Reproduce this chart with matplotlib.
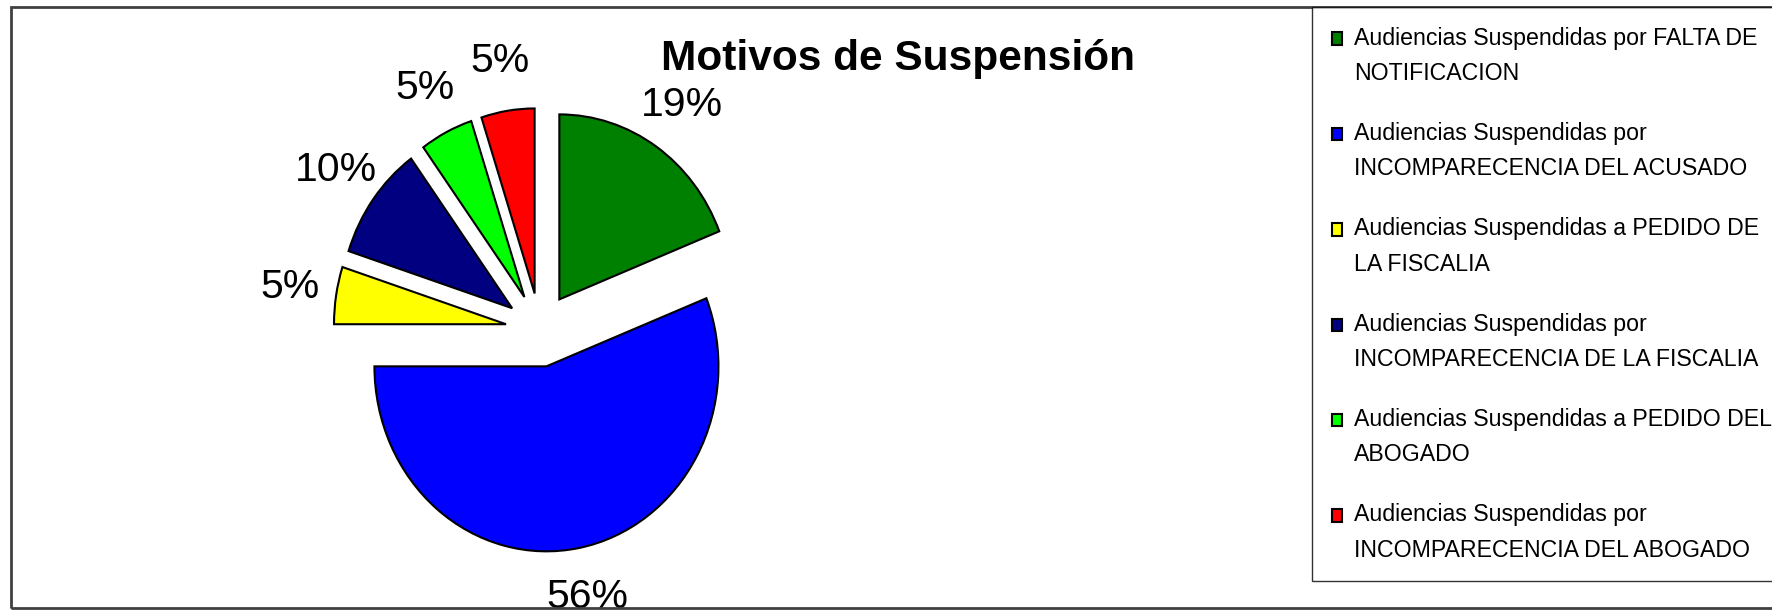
import matplotlib
matplotlib.use("Agg")
import matplotlib.pyplot as plt
from matplotlib.patches import Rectangle
from matplotlib.legend_handler import HandlerPatch

motivos = [
    'Audiencias Suspendidas por FALTA DE\nNOTIFICACION',
    'Audiencias Suspendidas por\nINCOMPARECENCIA DEL ACUSADO',
    'Audiencias Suspendidas a PEDIDO DE\nLA FISCALIA',
    'Audiencias Suspendidas por\nINCOMPARECENCIA DE LA FISCALIA',
    'Audiencias Suspendidas a PEDIDO DEL\nABOGADO',
    'Audiencias Suspendidas por\nINCOMPARECENCIA DEL ABOGADO',
]
porcentajes = [19, 56, 5, 10, 5, 5]
colores = ['#008000', '#0000FF', '#FFFF00', '#000080', '#00FF00', '#FF0000']

plt.rcParams['font.family'] = ['Liberation Sans', 'DejaVu Sans']

W, H = 1772, 613
fig = plt.figure(figsize=(W / 100, H / 100), dpi=100)

# pie axes: centre near (540, 330) px, slightly taller than wide like the original
ax = fig.add_axes([(540 - 344) / W, (283 - 370) / H, 688 / W, 740 / H])
wedges, texts, autotexts = ax.pie(
    porcentajes, colors=colores, startangle=90, counterclock=False,
    explode=[0.2] * 6, autopct='%.0f%%', pctdistance=1.27,
    wedgeprops=dict(edgecolor='black', linewidth=1.5),
    textprops=dict(fontsize=29.5))
ax.set_aspect('auto')
ax.set_xlim(-2, 2)
ax.set_ylim(-2, 2)
ax.axis('off')

fig.text(898 / W, 1 - 59 / H, 'Motivos de Suspensión', ha='center', va='center',
         fontsize=30.5, fontweight='bold')


# small square marker next to the first line of each (two-line) entry
def cuadro(legend, orig_handle, xdescent, ydescent, width, height, fontsize):
    return Rectangle((-xdescent, -ydescent + 0.77 * fontsize), width, height)


leg = fig.legend(wedges, motivos, loc='upper left',
                 bbox_to_anchor=(1312 / W, 1 - 7 / H), borderaxespad=0,
                 frameon=True, fancybox=False, edgecolor='black',
                 fontsize=16.7, handlelength=0.45, handleheight=0.45,
                 handletextpad=0.5, labelspacing=1.6, borderpad=0.85,
                 handler_map={w: HandlerPatch(patch_func=cuadro) for w in wedges})
leg.get_frame().set_linewidth(1)
for t in leg.get_texts():
    t.set_linespacing(1.68)

# outer chart border
fig.add_artist(Rectangle((11 / W, 1 - 608 / H), 1, 601 / H, transform=fig.transFigure,
                         fill=False, edgecolor='#404040', linewidth=2))

fig.savefig('out.png', dpi=100)
